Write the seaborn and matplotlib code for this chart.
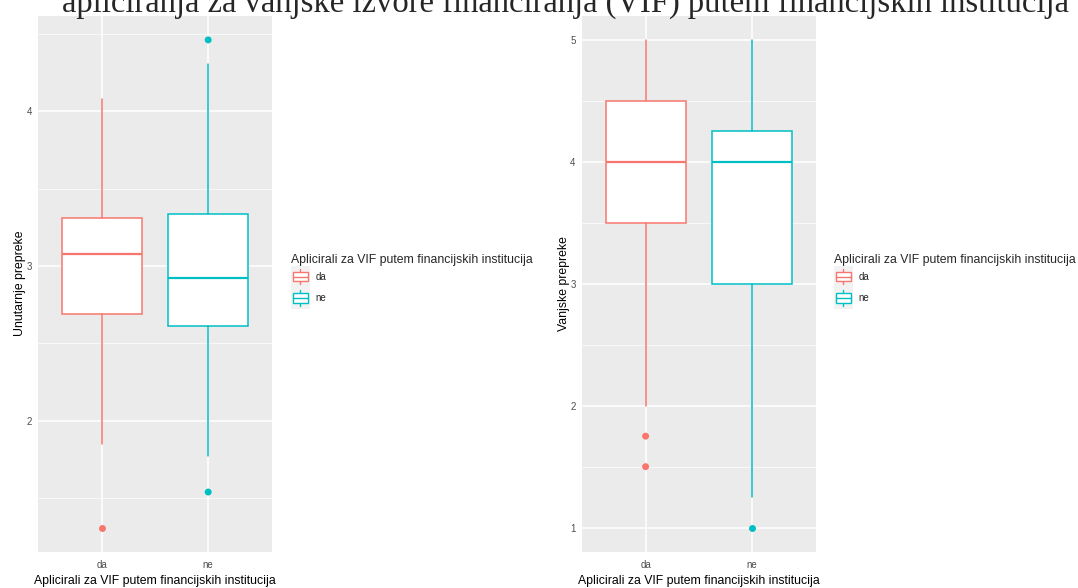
import matplotlib.pyplot as plt
import seaborn as sns
from matplotlib.patches import Rectangle, Patch
from matplotlib.lines import Line2D
from matplotlib.legend_handler import HandlerBase
from matplotlib.ticker import MultipleLocator, FormatStrFormatter

# Groups and colours (ggplot default hue palette)
groups = ['da', 'ne']
colors = ['#F8766D', '#00BFC4']

# Unutarnje prepreke - box statistics
unut_whislo = [1.846, 1.769]
unut_q1 = [2.692, 2.615]
unut_med = [3.077, 2.923]
unut_q3 = [3.308, 3.333]
unut_whishi = [4.077, 4.308]
unut_out_group = ['da', 'ne', 'ne']
unut_out_val = [1.308, 4.462, 1.538]

# Vanjske prepreke
vanj_whislo = [2.0, 1.25]
vanj_q1 = [3.5, 3.0]
vanj_med = [4.0, 4.0]
vanj_q3 = [4.5, 4.25]
vanj_whishi = [5.0, 5.0]
vanj_out_group = ['da', 'da', 'ne']
vanj_out_val = [1.75, 1.5, 1.0]

legend_title = 'Aplicirali za VIF putem financijskih institucija'
title = 'apliciranja za vanjske izvore financiranja (VIF) putem financijskih institucija'

sns.set_theme(style='darkgrid', rc={
    'axes.facecolor': '#EBEBEB',
    'grid.color': 'white',
    'axes.edgecolor': 'none',
    'xtick.color': '#333333',
    'ytick.color': '#333333',
    'xtick.labelcolor': '#4D4D4D',
    'ytick.labelcolor': '#4D4D4D',
})
plt.rcParams['font.family'] = ['Liberation Sans', 'DejaVu Sans']


# legend key that looks like a small ggplot boxplot glyph
class BoxKey(HandlerBase):
    def create_artists(self, legend, orig_handle, xd, yd, width, height, fontsize, trans):
        c = orig_handle.get_edgecolor()
        x0, y0 = -xd, -yd
        bg = Rectangle((x0, y0), width, height, facecolor='#F2F2F2', edgecolor='none', transform=trans)
        box = Rectangle((x0 + 0.1 * width, y0 + 0.28 * height), 0.8 * width, 0.44 * height,
                        facecolor='white', edgecolor=c, lw=1.0, transform=trans)
        med = Line2D([x0 + 0.1 * width, x0 + 0.9 * width], [y0 + 0.5 * height] * 2, color=c, lw=1.0, transform=trans)
        wt = Line2D([x0 + 0.5 * width] * 2, [y0 + 0.72 * height, y0 + 0.86 * height], color=c, lw=1.0, transform=trans)
        wb = Line2D([x0 + 0.5 * width] * 2, [y0 + 0.14 * height, y0 + 0.28 * height], color=c, lw=1.0, transform=trans)
        return [bg, box, med, wt, wb]


def draw_panel(ax, whislo, q1, med, q3, whishi, out_group, out_val, ylabel):
    # outliers through seaborn
    sns.stripplot(x=out_group, y=out_val, hue=out_group, order=groups, hue_order=groups,
                  palette=dict(zip(groups, colors)), jitter=False, size=5, legend=False, ax=ax, zorder=3)
    stats = []
    for i in range(len(groups)):
        stats.append(dict(whislo=whislo[i], q1=q1[i], med=med[i], q3=q3[i], whishi=whishi[i], fliers=[]))
    art = ax.bxp(stats, positions=range(len(groups)), widths=0.75, patch_artist=True,
                 showcaps=False, showfliers=False, manage_ticks=False)
    for i, c in enumerate(colors):
        art['boxes'][i].set(facecolor='white', edgecolor=c, lw=1.1)
        art['medians'][i].set(color=c, lw=1.6)
        for w in art['whiskers'][2 * i:2 * i + 2]:
            w.set(color=c, lw=1.1)

    vals = whislo + whishi + out_val
    lo, hi = min(vals), max(vals)
    pad = (hi - lo) * 0.05
    ax.set_ylim(lo - pad, hi + pad)
    ax.set_xlim(-0.6, 1.6)
    ax.set_xticks(range(len(groups)))
    ax.set_xticklabels(groups)
    ax.yaxis.set_major_locator(MultipleLocator(1))
    ax.yaxis.set_major_formatter(FormatStrFormatter('%d'))
    ax.yaxis.set_minor_locator(MultipleLocator(0.5))
    ax.grid(True, axis='x', which='major', color='white', lw=1.1)
    ax.grid(True, axis='y', which='major', color='white', lw=1.1)
    ax.grid(True, axis='y', which='minor', color='white', lw=0.5)
    ax.tick_params(axis='x', which='major', length=2.2, width=0.8, labelsize=7, pad=3.5)
    ax.tick_params(axis='y', which='major', length=2.2, width=0.8, labelsize=7, pad=2.2)
    ax.tick_params(axis='y', which='minor', length=0)
    ax.set_xlabel(legend_title, fontsize=8.8, color='black', labelpad=4)
    ax.set_ylabel(ylabel, fontsize=8.8, color='black', labelpad=0.5)
    for s in ax.spines.values():
        s.set_visible(False)


fig = plt.figure(figsize=(10.78, 5.88), dpi=100)
ax1 = fig.add_axes([38 / 1078, 36 / 588, 234 / 1078, 536.5 / 588])
ax2 = fig.add_axes([581.7 / 1078, 36 / 588, 234.3 / 1078, 536.5 / 588])

draw_panel(ax1, unut_whislo, unut_q1, unut_med, unut_q3, unut_whishi,
           unut_out_group, unut_out_val, 'Unutarnje prepreke')
draw_panel(ax2, vanj_whislo, vanj_q1, vanj_med, vanj_q3, vanj_whishi,
           vanj_out_group, vanj_out_val, 'Vanjske prepreke')

# legends next to each panel
for x_px in [291, 834]:
    handles = [Patch(facecolor='white', edgecolor=c, label=g) for g, c in zip(groups, colors)]
    fig.legend(handles=handles, title=legend_title, loc='upper left',
               bbox_to_anchor=(x_px / 1078, 1 - 254 / 588), frameon=False,
               fontsize=7, title_fontsize=8.8, handler_map={Patch: BoxKey()},
               handlelength=1.95, handleheight=3.0, labelspacing=0, handletextpad=0.6,
               borderpad=0, borderaxespad=0, alignment='left')

# title, cut off at the top like the original
fig.text(62 / 1078, 1 - 12 / 588, title, family='Liberation Serif', fontsize=23.5,
         va='baseline', ha='left')

plt.savefig('out.png', dpi=100)
